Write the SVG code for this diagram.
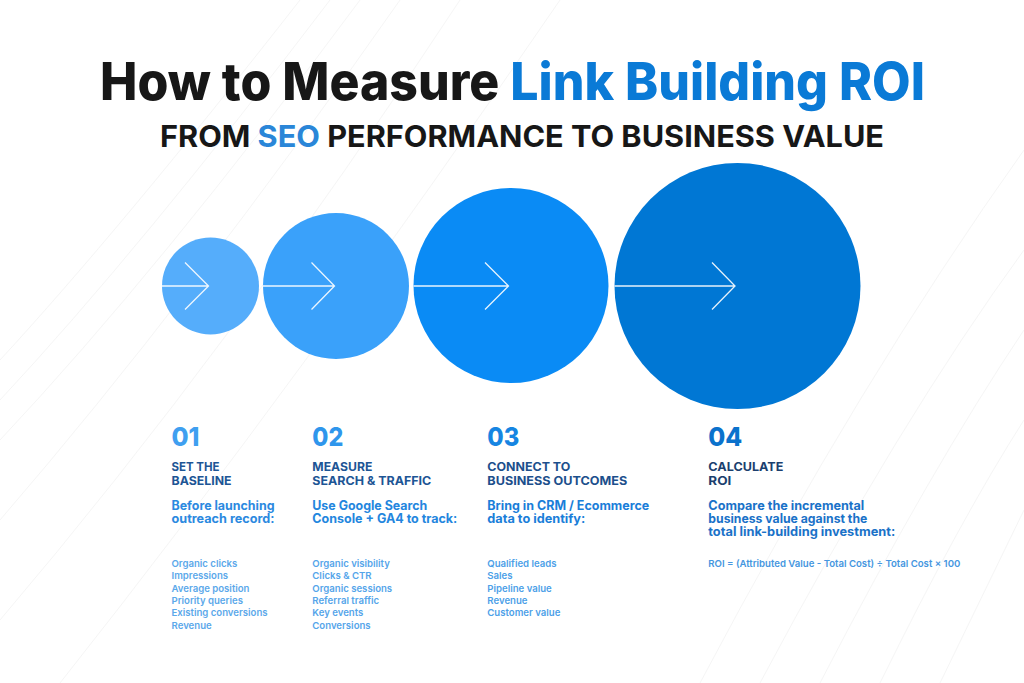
<svg xmlns="http://www.w3.org/2000/svg" width="1024" height="683" viewBox="0 0 1024 683">
<style>
.title{font-family:Inter,"Noto Sans",sans-serif;font-weight:800;font-size:52px;fill:#171717}
.sub{font-family:Inter,"Noto Sans",sans-serif;font-weight:700;font-size:30px;fill:#171717}
.blue{fill:#0a7ad6}
.num{font-family:Inter,"Noto Sans",sans-serif;font-weight:800;font-size:26px}
.head{font-family:Inter,"Noto Sans",sans-serif;font-weight:700;font-size:12px}
.lead{font-family:Inter,"Noto Sans",sans-serif;font-weight:700;font-size:12.5px}
.item{font-family:Inter,"Noto Sans",sans-serif;font-weight:600;font-size:9.6px}
.arrow{stroke:#ffffff;stroke-width:1.3;fill:none;opacity:0.9}
.bg{stroke:#f0f0f0;stroke-width:1;fill:none}
</style>
<rect width="1024" height="683" fill="#ffffff"/>
<g id="background" opacity="0.6">
<path class="bg" d="M0 360 Q120 230 300 0"/>
<path class="bg" d="M0 400 Q140 250 330 0"/>
<path class="bg" d="M0 440 Q160 270 360 0"/>
<path class="bg" d="M0 520 Q190 300 400 0"/>
<path class="bg" d="M0 620 Q230 350 460 0"/>
<path class="bg" d="M60 683 Q300 380 560 0"/>
<path class="bg" d="M700 683 Q860 380 1024 150"/>
<path class="bg" d="M760 683 Q900 420 1024 250"/>
<path class="bg" d="M820 683 Q930 470 1024 330"/>
<path class="bg" d="M880 683 Q960 520 1024 420"/>
<path class="bg" d="M940 683 Q990 580 1024 510"/>
</g>
<g id="title">
<text class="title" x="100" y="100" textLength="825" lengthAdjust="spacingAndGlyphs">How to Measure <tspan class="blue">Link Building ROI</tspan></text>
<text class="sub" x="160" y="147" textLength="724" lengthAdjust="spacingAndGlyphs">FROM <tspan fill="#2a86d8">SEO</tspan> PERFORMANCE TO BUSINESS VALUE</text>
</g>
<g id="node-1">
<circle cx="210.5" cy="286" r="48.5" fill="#55adfb"/>
<text class="num" x="171.5" y="446" fill="#3f9ff0" textLength="28" lengthAdjust="spacingAndGlyphs">01</text>
<text class="head" fill="#1d5595"><tspan x="171.5" y="471" textLength="48" lengthAdjust="spacingAndGlyphs">SET THE</tspan><tspan x="171.5" y="484.5" textLength="60" lengthAdjust="spacingAndGlyphs">BASELINE</tspan></text>
<text class="lead" fill="#2b89e0"><tspan x="171.5" y="510" textLength="103" lengthAdjust="spacingAndGlyphs">Before launching</tspan><tspan x="171.5" y="523" textLength="103" lengthAdjust="spacingAndGlyphs">outreach record:</tspan></text>
<text class="item" fill="#5ba8ea"><tspan x="171.5" y="567">Organic clicks</tspan><tspan x="171.5" y="579.3">Impressions</tspan><tspan x="171.5" y="591.7">Average position</tspan><tspan x="171.5" y="604">Priority queries</tspan><tspan x="171.5" y="616.3">Existing conversions</tspan><tspan x="171.5" y="628.7">Revenue</tspan></text>
</g>
<g id="node-2">
<circle cx="336" cy="286" r="73" fill="#3aa1fa"/>
<text class="num" x="312.3" y="446" fill="#2f96ec" textLength="31" lengthAdjust="spacingAndGlyphs">02</text>
<text class="head" fill="#1d5595"><tspan x="312.3" y="471" textLength="60" lengthAdjust="spacingAndGlyphs">MEASURE</tspan><tspan x="312.3" y="484.5" textLength="119" lengthAdjust="spacingAndGlyphs">SEARCH &amp; TRAFFIC</tspan></text>
<text class="lead" fill="#2386de"><tspan x="312.3" y="510" textLength="115" lengthAdjust="spacingAndGlyphs">Use Google Search</tspan><tspan x="312.3" y="523" textLength="145" lengthAdjust="spacingAndGlyphs">Console + GA4 to track:</tspan></text>
<text class="item" fill="#55a5ea"><tspan x="312.3" y="567">Organic visibility</tspan><tspan x="312.3" y="579.3">Clicks &amp; CTR</tspan><tspan x="312.3" y="591.7">Organic sessions</tspan><tspan x="312.3" y="604">Referral traffic</tspan><tspan x="312.3" y="616.3">Key events</tspan><tspan x="312.3" y="628.7">Conversions</tspan></text>
</g>
<g id="node-3">
<circle cx="511" cy="285.5" r="97.5" fill="#0a8bf5"/>
<text class="num" x="487.3" y="446" fill="#1685e2" textLength="32" lengthAdjust="spacingAndGlyphs">03</text>
<text class="head" fill="#1c4f8c"><tspan x="487.3" y="471" textLength="83" lengthAdjust="spacingAndGlyphs">CONNECT TO</tspan><tspan x="487.3" y="484.5" textLength="140" lengthAdjust="spacingAndGlyphs">BUSINESS OUTCOMES</tspan></text>
<text class="lead" fill="#1a7ed9"><tspan x="487.3" y="510" textLength="162" lengthAdjust="spacingAndGlyphs">Bring in CRM / Ecommerce</tspan><tspan x="487.3" y="523" textLength="98" lengthAdjust="spacingAndGlyphs">data to identify:</tspan></text>
<text class="item" fill="#4d9fe8"><tspan x="487.3" y="567">Qualified leads</tspan><tspan x="487.3" y="579.3">Sales</tspan><tspan x="487.3" y="591.7">Pipeline value</tspan><tspan x="487.3" y="604">Revenue</tspan><tspan x="487.3" y="616.3">Customer value</tspan></text>
</g>
<g id="node-4">
<circle cx="737.5" cy="286" r="123" fill="#0077d4"/>
<text class="num" x="708.3" y="446" fill="#0b72cc" textLength="34" lengthAdjust="spacingAndGlyphs">04</text>
<text class="head" fill="#1b3f6e"><tspan x="708.3" y="471" textLength="75" lengthAdjust="spacingAndGlyphs">CALCULATE</tspan><tspan x="708.3" y="484.5" textLength="23" lengthAdjust="spacingAndGlyphs">ROI</tspan></text>
<text class="lead" fill="#1a72c8"><tspan x="708.3" y="510" textLength="156" lengthAdjust="spacingAndGlyphs">Compare the incremental</tspan><tspan x="708.3" y="523" textLength="159" lengthAdjust="spacingAndGlyphs">business value against the</tspan><tspan x="708.3" y="536" textLength="187" lengthAdjust="spacingAndGlyphs">total link-building investment:</tspan></text>
<text class="item" fill="#4596e0" x="708.3" y="567" textLength="252" lengthAdjust="spacingAndGlyphs">ROI = (Attributed Value - Total Cost) ÷ Total Cost × 100</text>
</g>
<g id="connectors">
<path class="arrow" d="M162 286 H208.5 M185 262.5 L208.5 286 L185 309.5"/>
<path class="arrow" d="M263 286 H334.5 M311.5 262.5 L334.5 286 L311.5 309.5"/>
<path class="arrow" d="M413.5 286 H508.5 M485 262.5 L508.5 286 L485 309.5"/>
<path class="arrow" d="M614.5 286 H735 M712 262.5 L735 286 L712 309.5"/>
</g>
</svg>
